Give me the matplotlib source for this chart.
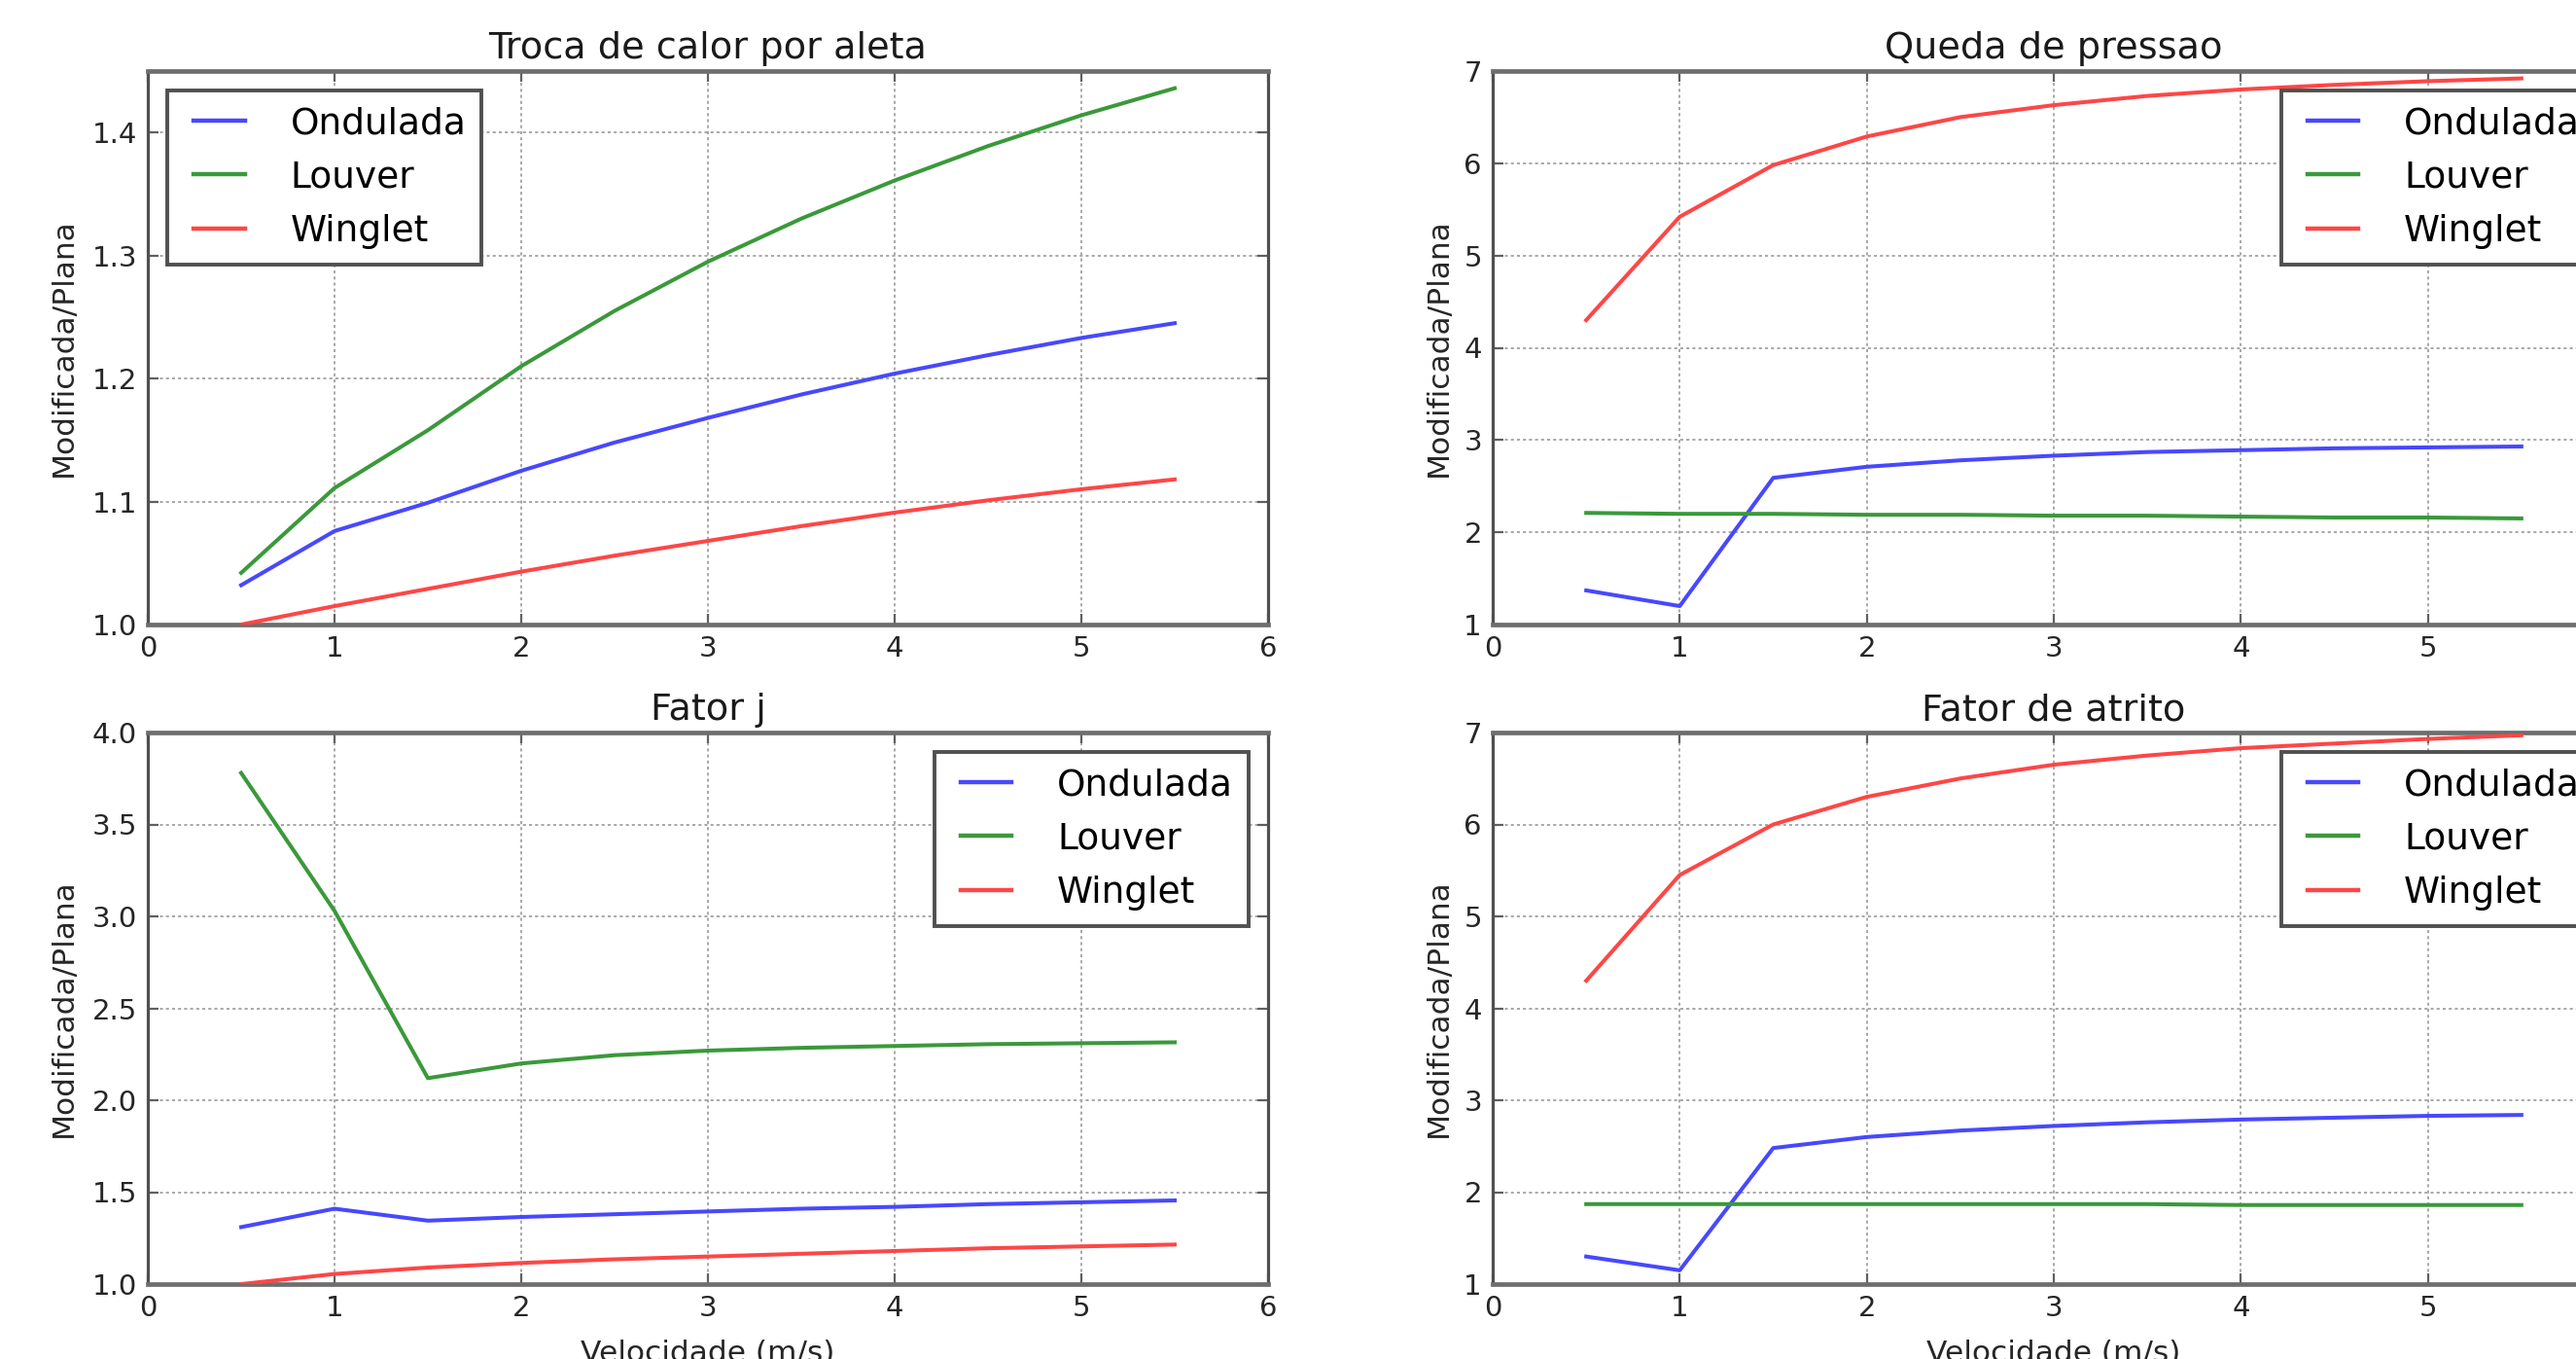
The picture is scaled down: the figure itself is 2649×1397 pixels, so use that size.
import matplotlib
matplotlib.use('Agg')
import matplotlib.pyplot as plt

plt.rcParams['font.family'] = ['DejaVu Sans']

# ---------------- data ----------------
velocidade = [0.5, 1.0, 1.5, 2.0, 2.5, 3.0, 3.5, 4.0, 4.5, 5.0, 5.5]
series_names = ['Ondulada', 'Louver', 'Winglet']

troca_ondulada = [1.032, 1.076, 1.099, 1.125, 1.148, 1.168, 1.187, 1.204, 1.219, 1.233, 1.245]
troca_louver = [1.042, 1.111, 1.158, 1.210, 1.255, 1.295, 1.330, 1.361, 1.389, 1.414, 1.436]
troca_winglet = [1.000, 1.015, 1.029, 1.043, 1.056, 1.068, 1.080, 1.091, 1.101, 1.110, 1.118]

queda_ondulada = [1.37, 1.20, 2.59, 2.71, 2.78, 2.83, 2.87, 2.89, 2.91, 2.92, 2.93]
queda_louver = [2.21, 2.20, 2.20, 2.19, 2.19, 2.18, 2.18, 2.17, 2.16, 2.16, 2.15]
queda_winglet = [4.30, 5.42, 5.98, 6.29, 6.50, 6.63, 6.73, 6.80, 6.85, 6.89, 6.92]

j_ondulada = [1.31, 1.41, 1.345, 1.365, 1.38, 1.395, 1.41, 1.42, 1.435, 1.445, 1.455]
j_louver = [3.78, 3.03, 2.12, 2.20, 2.245, 2.27, 2.285, 2.295, 2.305, 2.31, 2.315]
j_winglet = [1.00, 1.055, 1.09, 1.115, 1.135, 1.15, 1.165, 1.18, 1.195, 1.205, 1.215]

atrito_ondulada = [1.30, 1.15, 2.48, 2.60, 2.67, 2.72, 2.76, 2.79, 2.81, 2.83, 2.84]
atrito_louver = [1.87, 1.87, 1.87, 1.87, 1.87, 1.87, 1.87, 1.86, 1.86, 1.86, 1.86]
atrito_winglet = [4.30, 5.45, 6.00, 6.30, 6.50, 6.65, 6.75, 6.83, 6.88, 6.93, 6.97]

titles = ['Troca de calor por aleta', 'Queda de pressao', 'Fator j', 'Fator de atrito']
x_ticks = [0, 1, 2, 3, 4, 5, 6]
y_ticks_troca = [1.0, 1.1, 1.2, 1.3, 1.4]
y_ticks_j = [1.0, 1.5, 2.0, 2.5, 3.0, 3.5, 4.0]
y_ticks_pressao = [1, 2, 3, 4, 5, 6, 7]
ylabel_text = 'Modificada/Plana'
xlabel_text = 'Velocidade (m/s)'

# ---------------- styling ----------------
colors = ['#4848ff', '#3a993a', '#ff4646']
W, H = 2649, 1397
fig = plt.figure(figsize=(W / 100, H / 100), dpi=100)
fig.patch.set_facecolor('white')

def px_rect(left, top, right, bottom):
    return [left / W, 1 - bottom / H, (right - left) / W, (bottom - top) / H]

rects = [
    px_rect(152, 73, 1304, 642),
    px_rect(1535, 73, 2689, 642),
    px_rect(152, 753, 1304, 1320),
    px_rect(1535, 753, 2689, 1320),
]

# (title, series, ylim, yticks, fmt, legend loc, xlabel?, ylabel x, right column?)
panels = [
    (titles[0], [troca_ondulada, troca_louver, troca_winglet], (1.0, 1.45), y_ticks_troca, '%.1f', 'upper left', False, -0.063, False),
    (titles[1], [queda_ondulada, queda_louver, queda_winglet], (1, 7), y_ticks_pressao, '%d', 'upper right', False, -0.036, True),
    (titles[2], [j_ondulada, j_louver, j_winglet], (1.0, 4.0), y_ticks_j, '%.1f', 'upper right', True, -0.063, False),
    (titles[3], [atrito_ondulada, atrito_louver, atrito_winglet], (1, 7), y_ticks_pressao, '%d', 'upper right', True, -0.036, True),
]

for rect, (title, series, ylim, yticks, yfmt, loc, has_xlabel, ylab_x, right_col) in zip(rects, panels):
    ax = fig.add_axes(rect)
    for name, vals, c in zip(series_names, series, colors):
        ax.plot(velocidade, vals, color=c, lw=2.9, label=name, zorder=3)
    ax.set_xlim(0, 6)
    ax.set_ylim(*ylim)
    ax.set_xticks(x_ticks)
    # the right column is cropped at the figure edge: its "6" label is not visible
    xt_labels = [str(t) for t in x_ticks]
    if right_col:
        xt_labels[-1] = ''
    ax.set_xticklabels(xt_labels)
    ax.set_yticks(yticks)
    ax.set_yticklabels([yfmt % t for t in yticks])
    ax.grid(True, color='#a8a8a8', linestyle=(0, (1.6, 1.6)), linewidth=1.4, zorder=1)
    ax.tick_params(direction='in', length=8, width=1.6, color='#606060',
                   labelsize=21, labelcolor='#262626', pad=8,
                   top=True, right=True)
    for side in ['top', 'bottom']:
        ax.spines[side].set_color('#6e6e6e')
        ax.spines[side].set_linewidth(3.4)
    for side in ['left', 'right']:
        ax.spines[side].set_color('#505050')
        ax.spines[side].set_linewidth(2.3)
    ax.set_title(title, fontsize=27.5, color='#1a1a1a', pad=9)
    ax.set_ylabel(ylabel_text, fontsize=22.5, color='#262626')
    ax.yaxis.set_label_coords(ylab_x, 0.5)
    if has_xlabel:
        ax.set_xlabel(xlabel_text, fontsize=22.5, color='#262626', labelpad=13)
    leg = ax.legend(loc=loc, fontsize=27, numpoints=2, handlelength=2.0,
                    handletextpad=0.95, borderpad=0.42, labelspacing=0.52,
                    borderaxespad=0.54, fancybox=False, framealpha=1.0)
    leg.get_frame().set_edgecolor('#505050')
    leg.get_frame().set_linewidth(2.8)
    for line in leg.get_lines():
        line.set_linewidth(3.2)

fig.savefig('out.png', dpi=100, facecolor='white')
